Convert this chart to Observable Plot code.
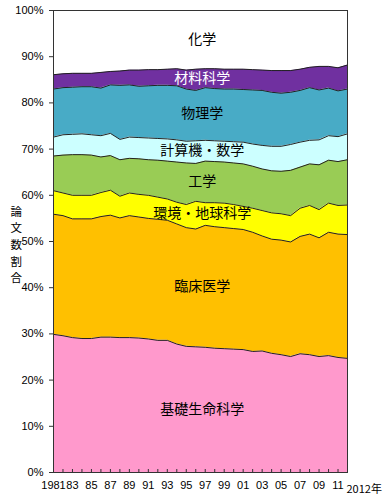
<!DOCTYPE html>
<html><head><meta charset="utf-8">
<script src="https://cdn.jsdelivr.net/npm/d3@7"></script>
<script src="https://cdn.jsdelivr.net/npm/@observablehq/plot@0.6"></script>
<style>body{margin:0;background:#fff;} #chart svg{display:block;}</style>
</head><body><div id="chart"></div>
<script>
const years = [1981,1982,1983,1984,1985,1986,1987,1988,1989,1990,1991,1992,1993,1994,1995,1996,1997,1998,1999,2000,2001,2002,2003,2004,2005,2006,2007,2008,2009,2010,2011,2012];

// categories from bottom to top
const categories = ["基礎生命科学","臨床医学","環境・地球科学","工学","計算機・数学","物理学","材料科学","化学"];
const colors = ["#ff99cc","#ffc000","#ffff00","#99cc55","#ccffff","#48abc6","#7030a0","#ffffff"];
const labelColors = ["#000","#000","#000","#000","#000","#000","#fff","#000"];

// cumulative upper boundary (%) of each category
const top_基礎生命科学 = [29.9,29.6,29.2,29.0,29.0,29.3,29.3,29.2,29.2,29.1,28.9,28.6,28.6,27.8,27.3,27.2,27.1,26.9,26.8,26.7,26.6,26.2,26.3,25.8,25.5,25.1,25.7,25.5,25.1,25.3,24.9,24.7];
const top_臨床医学 = [55.9,55.6,54.9,54.9,54.9,55.4,55.7,55.1,55.6,55.3,55.0,54.8,54.6,53.8,53.0,52.7,53.5,53.2,53.0,52.8,52.6,52.0,51.2,50.5,50.3,49.9,51.1,51.6,50.8,52.0,51.6,51.5];
const top_環境地球科学 = [61.0,60.5,60.0,60.0,60.0,60.6,61.1,59.8,60.5,60.2,60.0,59.6,59.2,58.5,58.0,58.7,58.4,58.4,58.3,58.0,57.6,57.2,56.7,56.2,56.0,55.6,57.2,57.8,56.9,58.3,57.8,57.9];
const top_工学 = [68.5,68.7,68.8,68.8,68.7,68.3,68.6,67.7,68.0,67.9,67.7,67.6,67.4,67.2,67.0,66.9,67.4,67.3,67.2,67.0,66.8,66.3,65.7,65.3,65.2,65.4,66.1,66.8,66.6,67.6,67.3,67.7];
const top_計算機数学 = [72.6,73.1,73.2,73.3,73.1,72.9,73.4,72.1,72.6,72.5,72.4,72.3,72.2,72.0,71.7,71.8,71.9,71.8,71.7,71.6,71.5,71.1,70.8,70.6,70.6,71.0,71.5,71.9,72.0,72.9,72.7,73.3];
const top_物理学 = [83.0,83.3,83.4,83.5,83.5,83.2,83.9,83.8,83.9,83.6,83.7,83.8,83.8,83.7,83.0,82.7,83.3,83.1,83.0,83.0,82.9,82.8,82.7,82.3,82.1,82.3,82.7,83.3,82.8,83.2,82.6,83.0];
const top_材料科学 = [86.1,86.3,86.4,86.4,86.4,86.6,86.8,86.9,87.1,87.1,87.2,87.2,87.3,87.4,87.1,87.3,87.4,87.4,87.3,87.3,87.3,87.2,87.1,87.0,87.0,87.0,87.3,87.7,87.9,87.9,87.6,88.2];
const top_化学 = [100,100,100,100,100,100,100,100,100,100,100,100,100,100,100,100,100,100,100,100,100,100,100,100,100,100,100,100,100,100,100,100];

const yTicks = [0,10,20,30,40,50,60,70,80,90,100];
const xLabelYears = [1981,1983,1985,1987,1989,1991,1993,1995,1997,1999,2001,2003,2005,2007,2009,2011];
const xLabelTexts = ["1981","83","85","87","89","91","93","95","97","99","01","03","05","07","09","11"];
const endLabel = "2012年";
const yAxisLabel = "論\n文\n数\n割\n合";
const labelYear = 1997;

const tops = [top_基礎生命科学, top_臨床医学, top_環境地球科学, top_工学, top_計算機数学, top_物理学, top_材料科学, top_化学];

const bands = [];
categories.forEach((cat, i) => {
  years.forEach((yr, j) => {
    bands.push({cat, year: yr, y1: i === 0 ? 0 : tops[i-1][j], y2: tops[i][j]});
  });
});
const labels = categories.map((cat, i) => {
  const j = years.indexOf(labelYear);
  const lo = i === 0 ? 0 : tops[i-1][j];
  return {cat, year: labelYear, y: (lo + tops[i][j]) / 2, color: labelColors[i]};
});
const boundaries = bands.filter(d => d.cat !== "化学");

const jp = "'Noto Sans CJK JP', sans-serif";
const num = "'Liberation Sans Narrow', 'Liberation Sans', Arial, sans-serif";

const chart = Plot.plot({
  width: 383,
  height: 500,
  marginLeft: 53,
  marginRight: 36,
  marginTop: 10,
  marginBottom: 28,
  style: {fontFamily: num, background: "#fff", overflow: "visible"},
  x: {domain: [1981, 2012], label: null},
  y: {domain: [0, 100], label: null},
  color: {domain: categories, range: colors},
  marks: [
    Plot.areaY(bands, {x: "year", y1: "y1", y2: "y2", fill: "cat", z: "cat"}),
    Plot.lineY(boundaries, {x: "year", y: "y2", z: "cat", stroke: "#222", strokeWidth: 1}),
    Plot.frame({stroke: "#333", strokeWidth: 1}),
    Plot.axisY({ticks: yTicks, tickFormat: d => d + "%", tickSize: 4, tickPadding: 6, fontSize: 11, stroke: "#333", label: null}),
    Plot.axisX({ticks: years, tickSize: -3, text: null, stroke: "#333", label: null}),
    Plot.axisX({ticks: xLabelYears, tickFormat: d => xLabelTexts[xLabelYears.indexOf(d)], tickSize: 0, tickPadding: 9, fontSize: 11, label: null}),
    Plot.text([endLabel], {x: years[years.length - 1], y: 0, text: d => d, textAnchor: "start", dx: -1, dy: 17, fontSize: 11, fontFamily: jp}),
    Plot.text([yAxisLabel], {frameAnchor: "left", text: d => d, dx: -43, dy: 2, fontSize: 11.5, lineHeight: 1.45, fontFamily: jp}),
    Plot.text(labels, {x: "year", y: "y", text: "cat", fill: "color", fontSize: 14, fontFamily: jp, dx: -3})
  ]
});
document.getElementById("chart").appendChild(chart);
</script>
</body></html>
